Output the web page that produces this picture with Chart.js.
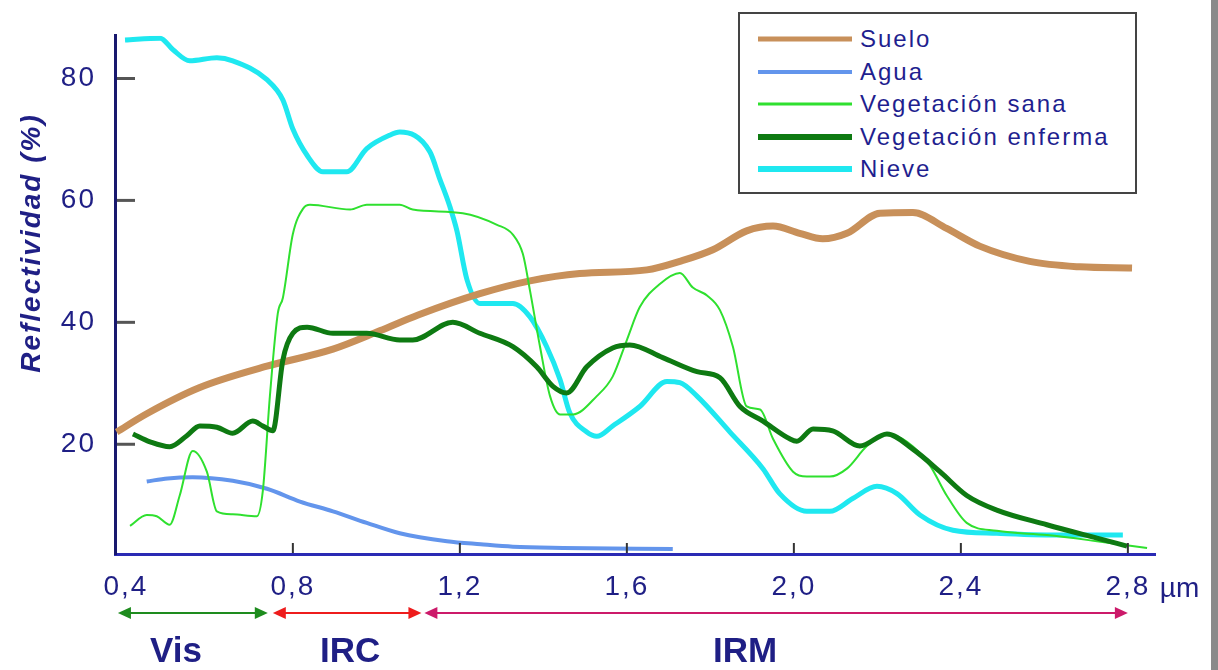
<!DOCTYPE html>
<html lang="es">
<head>
<meta charset="utf-8">
<title>Reflectividad espectral</title>
<script src="https://cdn.jsdelivr.net/npm/chart.js@4.4.0/dist/chart.umd.min.js"></script>
<style>
  html, body { margin: 0; padding: 0; background: #fff; }
  #wrap { position: relative; width: 1218px; height: 670px; overflow: hidden; }
  #edge { position: absolute; right: 0; top: 0; width: 7px; height: 670px; background: #8a8a8a; }
  .legend {
    position: absolute; left: 738px; top: 12px; width: 395px; height: 178px;
    border: 2px solid #444; background: #fff;
    font-family: "Liberation Sans", Arial, sans-serif; font-size: 24px;
    color: #1f1f8f; letter-spacing: 2px;
  }
  .legend .row { position: absolute; left: 0; height: 30px; width: 100%; }
  .legend .swatch { position: absolute; left: 18px; width: 94px; top: 50%; transform: translateY(-50%); }
  .legend .txt { position: absolute; left: 120px; top: 50%; transform: translateY(-50%); white-space: nowrap; line-height: 1; }
</style>
</head>
<body>
<div id="wrap">
  <canvas id="chart" width="1218" height="670"></canvas>
  <div class="legend" id="legend"></div>
  <div id="edge"></div>
</div>
<script>
// reflectance curves, [wavelength µm, reflectivity %]
const suelo = [[0.378,22],[0.45,25],[0.577,29.3],[0.738,32.8],[0.896,35.6],[1.008,38.6],[1.1,41.2],[1.248,44.7],[1.368,46.8],[1.487,48],[1.648,48.6],[1.727,50],[1.806,51.9],[1.887,55],[1.95,55.8],[2.014,54.6],[2.069,53.7],[2.127,54.6],[2.206,57.9],[2.285,58],[2.366,55.4],[2.445,52.5],[2.565,50],[2.685,49.1],[2.81,48.9]];
const agua = [[0.45,13.9],[0.5,14.4],[0.56,14.6],[0.656,14],[0.738,12.7],[0.817,10.6],[0.896,9],[0.977,7.1],[1.056,5.4],[1.169,4.1],[1.25,3.6],[1.327,3.2],[1.447,3],[1.71,2.8]];
const vegSana = [[0.41,6.6],[0.45,8.4],[0.474,8.2],[0.505,6.8],[0.529,11.6],[0.56,18.9],[0.594,15.5],[0.618,9],[0.656,8.5],[0.714,8.2],[0.728,12.3],[0.745,27.9],[0.764,41.5],[0.776,44],[0.8,54.5],[0.825,58.7],[0.841,59.3],[0.937,58.5],[0.977,59.3],[1.056,59.3],[1.087,58.5],[1.207,57.9],[1.289,56],[1.327,54.4],[1.351,51.2],[1.368,45.2],[1.392,36],[1.416,27.9],[1.44,24.9],[1.471,24.9],[1.528,27.9],[1.566,31.1],[1.6,37.1],[1.631,42.5],[1.679,46.3],[1.727,48.1],[1.758,45.7],[1.792,44.4],[1.823,42],[1.854,36],[1.887,26.2],[1.919,25.7],[1.95,20.9],[1.998,15.5],[2.031,14.7],[2.086,14.7],[2.127,16],[2.175,19.7],[2.223,21.7],[2.271,20.4],[2.326,16.5],[2.366,11.6],[2.414,7.1],[2.486,5.8],[2.606,5.1],[2.726,4.1],[2.846,3]];
const vegEnferma = [[0.417,21.7],[0.458,20.4],[0.505,19.6],[0.546,21.4],[0.577,23],[0.618,22.8],[0.656,21.8],[0.704,23.8],[0.728,23],[0.752,22.2],[0.776,33.8],[0.8,38.2],[0.834,39.2],[0.896,38.2],[0.977,38.2],[1.056,37.1],[1.087,37.1],[1.183,40],[1.248,38.2],[1.327,36],[1.384,32.7],[1.423,29.5],[1.456,28.4],[1.504,32.7],[1.566,35.8],[1.607,36.3],[1.686,34.2],[1.768,31.9],[1.823,30.9],[1.871,26.2],[1.926,23.8],[1.99,20.9],[2.007,20.5],[2.046,22.5],[2.093,22.2],[2.158,19.7],[2.223,21.7],[2.285,19.2],[2.35,15.5],[2.414,11.6],[2.486,9.2],[2.606,6.8],[2.726,4.6],[2.798,3.3]];
const nieve = [[0.398,86.3],[0.482,86.6],[0.513,84.7],[0.553,82.9],[0.618,83.4],[0.656,82.9],[0.738,79.8],[0.776,76.5],[0.8,71.7],[0.834,67.4],[0.872,64.7],[0.929,64.7],[0.977,68.5],[1.032,70.7],[1.056,71.2],[1.128,68],[1.152,63.5],[1.176,59],[1.193,55],[1.217,47],[1.248,43.1],[1.327,43.1],[1.368,40.9],[1.408,36],[1.44,30.6],[1.463,25.2],[1.504,22],[1.528,21.3],[1.566,23],[1.631,26.2],[1.696,30.3],[1.727,30.1],[1.768,27.9],[1.847,22],[1.926,16],[1.966,11.9],[2.031,9],[2.086,9],[2.141,11.1],[2.199,13.1],[2.247,11.9],[2.302,8.4],[2.381,5.9],[2.486,5.4],[2.644,5.1],[2.788,5.1]];

const xTicks = [0.4, 0.8, 1.2, 1.6, 2.0, 2.4, 2.8];
const yTicks = [20, 40, 60, 80];
const yTitle = 'Reflectividad (%)';
const xUnit = 'µm';

// spectral regions under the axis
const bandNames = ['Vis', 'IRC', 'IRM'];
const bandFrom = [0.381, 0.752, 1.115];
const bandTo = [0.74, 1.108, 2.8];
const bandLabelAt = [0.52, 0.937, 1.883];

const navy = '#1f1f85';
const bandColors = ['#1e8c1e', '#ee1c1c', '#cc1a6a'];

const series = [
  { label: 'Suelo', data: suelo, color: '#c8905a', width: 7, legendWidth: 5, order: 3 },
  { label: 'Agua', data: agua, color: '#6395ec', width: 4, legendWidth: 4, order: 5 },
  { label: 'Vegetación sana', data: vegSana, color: '#2fe02f', width: 2, legendWidth: 3, order: 2 },
  { label: 'Vegetación enferma', data: vegEnferma, color: '#0e7a12', width: 5, legendWidth: 6, order: 1 },
  { label: 'Nieve', data: nieve, color: '#1fe8f0', width: 5, legendWidth: 6, order: 4 },
];

const fmt = v => v.toFixed(1).replace('.', ',');

// legend box (html)
const legendEl = document.getElementById('legend');
series.forEach((s, i) => {
  const row = document.createElement('div');
  row.className = 'row';
  row.style.top = (10 + i * 32.5) + 'px';
  const sw = document.createElement('div');
  sw.className = 'swatch';
  sw.style.height = s.legendWidth + 'px';
  sw.style.background = s.color;
  const tx = document.createElement('div');
  tx.className = 'txt';
  tx.textContent = s.label;
  row.appendChild(sw); row.appendChild(tx);
  legendEl.appendChild(row);
});

function arrowHead(ctx, x, y, dir) {
  ctx.beginPath();
  ctx.moveTo(x, y);
  ctx.lineTo(x - dir * 13, y - 6);
  ctx.lineTo(x - dir * 13, y + 6);
  ctx.closePath();
  ctx.fill();
}

// spaced-out tick labels like the original scan
const spacing = {
  id: 'spacing',
  beforeDraw(chart) { chart.ctx.letterSpacing = '2px'; },
  beforeDatasetsDraw(chart) { chart.ctx.letterSpacing = '0px'; },
};

// tick marks, axis title, region arrows
const decor = {
  id: 'decor',
  afterDraw(chart) {
    const { ctx, chartArea } = chart;
    const x = chart.scales.x, y = chart.scales.y;
    ctx.save();

    ctx.strokeStyle = '#555';
    ctx.lineWidth = 3;
    yTicks.forEach(v => {
      const py = y.getPixelForValue(v);
      ctx.beginPath(); ctx.moveTo(chartArea.left + 2, py); ctx.lineTo(chartArea.left + 20, py); ctx.stroke();
    });
    ctx.strokeStyle = '#333';
    ctx.lineWidth = 2;
    xTicks.slice(1).forEach(v => {
      const px = x.getPixelForValue(v);
      ctx.beginPath(); ctx.moveTo(px, chartArea.bottom - 1); ctx.lineTo(px, chartArea.bottom - 11); ctx.stroke();
    });

    // µm after the last tick label
    ctx.fillStyle = navy;
    ctx.font = '28px "Liberation Sans", Arial, sans-serif';
    ctx.textAlign = 'left';
    ctx.textBaseline = 'middle';
    ctx.fillText(xUnit, x.getPixelForValue(2.8) + 32, 589);

    // y title
    ctx.save();
    ctx.translate(32, 243);
    ctx.rotate(-Math.PI / 2);
    ctx.font = 'italic bold 28px "Liberation Sans", Arial, sans-serif';
    ctx.letterSpacing = '2px';
    ctx.textAlign = 'center';
    ctx.fillText(yTitle, 0, 0);
    ctx.restore();

    // region arrows
    const ay = 613;
    bandNames.forEach((name, i) => {
      const x1 = x.getPixelForValue(bandFrom[i]);
      const x2 = x.getPixelForValue(bandTo[i]);
      ctx.strokeStyle = bandColors[i];
      ctx.fillStyle = bandColors[i];
      ctx.lineWidth = 2;
      ctx.beginPath(); ctx.moveTo(x1 + 4, ay); ctx.lineTo(x2 - 4, ay); ctx.stroke();
      arrowHead(ctx, x1, ay, -1);
      arrowHead(ctx, x2, ay, 1);
      ctx.fillStyle = navy;
      ctx.font = 'bold 35px "Liberation Sans", Arial, sans-serif';
      ctx.textAlign = 'center';
      ctx.fillText(name, x.getPixelForValue(bandLabelAt[i]), 652);
    });
    ctx.restore();
  }
};

new Chart(document.getElementById('chart'), {
  type: 'line',
  data: {
    datasets: series.map(s => ({
      label: s.label,
      data: s.data.map(([wx, wy]) => ({ x: wx, y: wy })),
      borderColor: s.color,
      backgroundColor: s.color,
      borderWidth: s.width,
      pointRadius: 0,
      cubicInterpolationMode: 'monotone',
      fill: false,
      order: s.order,
    })),
  },
  options: {
    responsive: false,
    animation: false,
    layout: { padding: { left: 0, top: 33, right: 63, bottom: 0 } },
    plugins: { legend: { display: false }, tooltip: { enabled: false } },
    scales: {
      x: {
        type: 'linear', min: 0.374, max: 2.865,
        afterBuildTicks: sc => { sc.ticks = xTicks.map(v => ({ value: v })); },
        afterFit: sc => { sc.height = 116; },
        grid: { display: false, drawTicks: false },
        border: { display: true, color: '#2a2ab4', width: 3 },
        ticks: {
          padding: 16, color: navy, maxRotation: 0, autoSkip: false,
          font: { family: '"Liberation Sans", Arial, sans-serif', size: 28 },
          callback: v => fmt(v),
        },
      },
      y: {
        type: 'linear', min: 2, max: 87,
        afterBuildTicks: sc => { sc.ticks = yTicks.map(v => ({ value: v })); },
        afterFit: sc => { sc.width = 115; },
        grid: { display: false, drawTicks: false },
        border: { display: true, color: '#18186e', width: 3 },
        ticks: {
          padding: 19, color: navy,
          font: { family: '"Liberation Sans", Arial, sans-serif', size: 28 },
        },
      },
    },
  },
  plugins: [spacing, decor],
});
</script>
</body>
</html>
